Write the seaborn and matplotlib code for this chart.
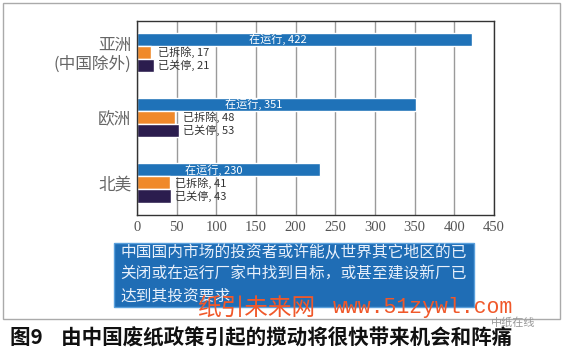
import pandas as pd
import seaborn as sns
import matplotlib.pyplot as plt
from matplotlib.patches import Rectangle

# data
regions = ["亚洲\n(中国除外)", "欧洲", "北美"]
statuses = ["在运行", "已拆除", "已关停"]
running = [422, 351, 230]
demolished = [17, 48, 41]
closed = [21, 53, 43]
x_ticks = [0, 50, 100, 150, 200, 250, 300, 350, 400, 450]

note = ("中国国内市场的投资者或许能从世界其它地区的已\n"
        "关闭或在运行厂家中找到目标，或甚至建设新厂已\n"
        "达到其投资要求")
caption = "图9    由中国废纸政策引起的搅动将很快带来机会和阵痛"

df = pd.DataFrame({
    "region": regions * 3,
    "status": [s for s in statuses for _ in regions],
    "value": running + demolished + closed,
})

sns.set_style("white")
plt.rcParams["font.family"] = ["Noto Sans CJK SC", "DejaVu Sans"]

fig = plt.figure(figsize=(5.64, 3.53), dpi=100, facecolor="white")
ax = fig.add_axes([0.243, 0.391, 0.633, 0.550])

sns.barplot(data=df, x="value", y="region", hue="status", order=regions,
            hue_order=statuses, orient="h", width=0.6, dodge=True,
            palette=["#1f72b8", "#f0892a", "#2b1d4e"], saturation=1,
            legend=False, ax=ax)

ax.set_xlim(0, 450)
ax.set_ylim(2.49, -0.48)
ax.set_xticks(x_ticks)
ax.set_xticklabels([str(t) for t in x_ticks], family="Liberation Serif",
                   fontsize=10.5, color="#555555")
ax.tick_params(axis="both", length=0, pad=4)
for lab in ax.get_yticklabels():
    lab.set_fontsize(12)
    lab.set_color("#666666")
    lab.set_linespacing(1.15)
ax.set_xlabel("")
ax.set_ylabel("")
ax.grid(axis="x", color="#9a9a9a", linewidth=1)
ax.set_axisbelow(True)
for sp in ax.spines.values():
    sp.set_color("#333333")
    sp.set_linewidth(1)

# labels inside blue bars
for bar, v in zip(ax.containers[0], running):
    ax.text(v * 0.42, bar.get_y() + bar.get_height() / 2, f"在运行, {v}",
            ha="center", va="center", color="white", fontsize=8)

# labels next to the small bars
for i in range(len(regions)):
    x = max(demolished[i], closed[i]) + 5
    for c, name, vals in [(1, "已拆除", demolished), (2, "已关停", closed)]:
        bar = ax.containers[c][i]
        ax.text(x, bar.get_y() + bar.get_height() / 2, f"{name}, {vals[i]}",
                ha="left", va="center", color="#333333", fontsize=8)

# outer frame
fig.patches.append(Rectangle((3 / 564, 1 - 319 / 353), 557 / 564, 316 / 353,
                             transform=fig.transFigure, fill=False,
                             edgecolor="#aaaaaa", linewidth=1))

# blue note box
fig.patches.append(Rectangle((114 / 564, 1 - 307 / 353), 360 / 564, 64 / 353,
                             transform=fig.transFigure, facecolor="#1f6db5",
                             edgecolor="#5aa0dc", linewidth=1))
fig.text(120 / 564, 1 - 244 / 353, note, ha="left", va="top",
         fontsize=11.3, color="#e8f0fb", linespacing=1.38)

# watermark
fig.text(197 / 564, 1 - 308 / 353, "纸引未来网", ha="left", va="center",
         fontsize=17, color="#f0582a")
fig.text(333 / 564, 1 - 308 / 353, "www.51zywl.com", ha="left", va="center",
         fontsize=15.5, color="#f0582a", family="Liberation Mono")
fig.text(535 / 564, 1 - 323 / 353, "中纸在线", ha="right", va="center",
         fontsize=8, color="#999999")

# caption
fig.text(10 / 564, 1 - 338 / 353, caption, ha="left", va="center",
         fontsize=14.8, color="#111111", fontweight="bold")

fig.savefig("out.png", dpi=100, facecolor="white")
